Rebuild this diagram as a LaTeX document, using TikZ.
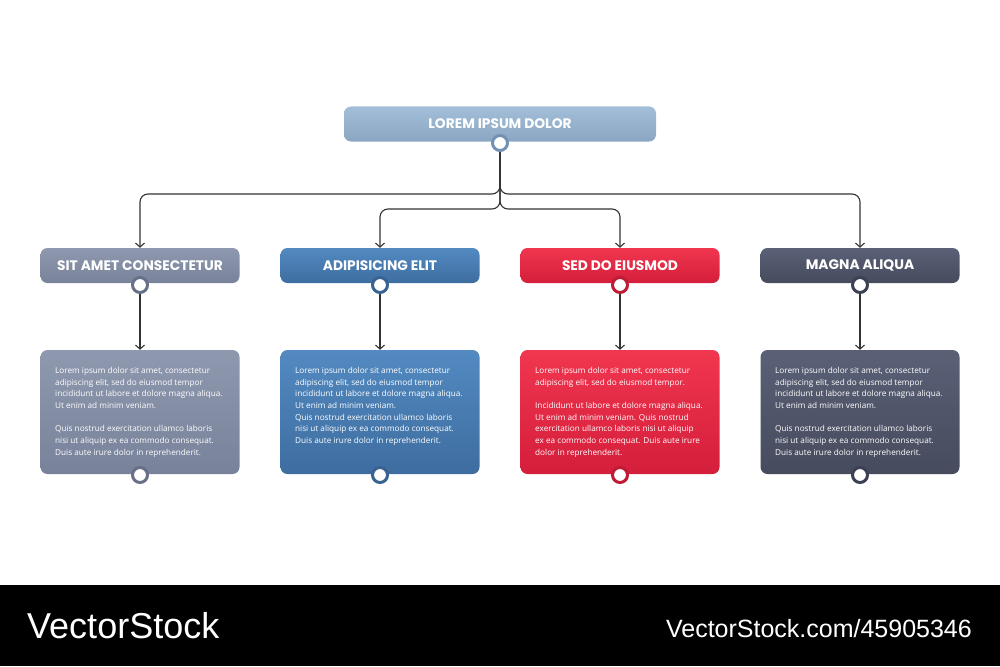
\documentclass[tikz,border=0pt]{standalone}
\usepackage{fontspec}
\setmainfont{Open Sans}
\newfontfamily\hfont{Poppins}
\newfontfamily\wfont{Liberation Sans}
\usetikzlibrary{arrows.meta}
\definecolor{topT}{HTML}{A2BED8}\definecolor{topB}{HTML}{8AA6C2}\definecolor{topR}{HTML}{7391B2}
\definecolor{grT}{HTML}{8E98AE}\definecolor{grB}{HTML}{78829A}\definecolor{grR}{HTML}{687087}
\definecolor{blT}{HTML}{528AC1}\definecolor{blB}{HTML}{3E6DA0}\definecolor{blR}{HTML}{376291}
\definecolor{rdT}{HTML}{F1364F}\definecolor{rdB}{HTML}{D41E3B}\definecolor{rdR}{HTML}{BF1A35}
\definecolor{dkT}{HTML}{5A6076}\definecolor{dkB}{HTML}{464B5D}\definecolor{dkR}{HTML}{3B4052}
\definecolor{lineC}{HTML}{333333}
\tikzset{
  box/.style={rounded corners=7pt, minimum width=199pt, inner sep=0pt, text=white},
  hdr/.style={box, minimum height=35pt, font=\hfont\bfseries\fontsize{13.8}{16}\selectfont},
  bodybox/.style={box, minimum height=124pt},
  bodytext/.style={anchor=north west, inner sep=0pt, text=white, align=left,
     font=\fontsize{8.2}{11.7}\selectfont},
  shade/.style 2 args={top color=#1, bottom color=#2},
  dot/.style={circle, fill=white, draw=#1, line width=3pt, minimum size=15pt, inner sep=0pt},
  conn/.style={draw=lineC, line width=1.1pt, rounded corners=8pt},
  arr/.style={conn, -{Straight Barb[length=4pt,width=9pt]}},
}
\begin{document}
\begin{tikzpicture}[x=1pt,y=-1pt]
\useasboundingbox (0,0) rectangle (1000,666);
\fill[white] (0,0) rectangle (1000,666);

% top node
\node[box, minimum width=312pt, minimum height=35pt, shade={topT}{topB},
      font=\hfont\bfseries\fontsize{13.8}{16}\selectfont] (top) at (500,124) {LOREM IPSUM DOLOR};

% headers
\node[hdr, shade={grT}{grB}] (h1) at (140,265.5) {SIT AMET CONSECTETUR};
\node[hdr, shade={blT}{blB}] (h2) at (380,265.5) {ADIPISICING ELIT};
\node[hdr, shade={rdT}{rdB}] (h3) at (620,265.5) {SED DO EIUSMOD};
\node[hdr, shade={dkT}{dkB}] (h4) at (860,265.5) {MAGNA ALIQUA};

% bodies
\node[bodybox, shade={grT}{grB}] (b1) at (140,412) {};
\node[bodybox, shade={blT}{blB}] (b2) at (380,412) {};
\node[bodybox, shade={rdT}{rdB}] (b3) at (620,412) {};
\node[bodybox, shade={dkT}{dkB}] (b4) at (860,412) {};

\node[bodytext] (t1) at (55,367) {Lorem ipsum dolor sit amet, consectetur\\adipiscing elit, sed do eiusmod tempor\\incididunt ut labore et dolore magna aliqua.\\Ut enim ad minim veniam.\\[11.7pt]Quis nostrud exercitation ullamco laboris\\nisi ut aliquip ex ea commodo consequat.\\Duis aute irure dolor in reprehenderit.};
\node[bodytext] (t2) at (295,367) {Lorem ipsum dolor sit amet, consectetur\\adipiscing elit, sed do eiusmod tempor\\incididunt ut labore et dolore magna aliqua.\\Ut enim ad minim veniam.\\Quis nostrud exercitation ullamco laboris\\nisi ut aliquip ex ea commodo consequat.\\Duis aute irure dolor in reprehenderit.};
\node[bodytext] (t3) at (535,367) {Lorem ipsum dolor sit amet, consectetur\\adipiscing elit, sed do eiusmod tempor.\\[11.7pt]Incididunt ut labore et dolore magna aliqua.\\Ut enim ad minim veniam. Quis nostrud\\exercitation ullamco laboris nisi ut aliquip\\ex ea commodo consequat. Duis aute irure\\dolor in reprehenderit.};
\node[bodytext] (t4) at (775,367) {Lorem ipsum dolor sit amet, consectetur\\adipiscing elit, sed do eiusmod tempor\\incididunt ut labore et dolore magna aliqua.\\Ut enim ad minim veniam.\\[11.7pt]Quis nostrud exercitation ullamco laboris\\nisi ut aliquip ex ea commodo consequat.\\Duis aute irure dolor in reprehenderit.};

% junction levels
\coordinate (ya) at (500,194);
\coordinate (yb) at (500,209);

% dots (positions)
\coordinate (ct) at (500,143);
\coordinate (c1) at (140,285);
\coordinate (c2) at (380,285);
\coordinate (c3) at (620,285);
\coordinate (c4) at (860,285);

% connectors
\draw[arr] (ct) |- (h1.north |- ya) -- (h1.north);
\draw[arr] (ct) |- (h4.north |- ya) -- (h4.north);
\draw[arr] (ct) |- (h2.north |- yb) -- (h2.north);
\draw[arr] (ct) |- (h3.north |- yb) -- (h3.north);
\draw[arr] (c1) -- (b1.north);
\draw[arr] (c2) -- (b2.north);
\draw[arr] (c3) -- (b3.north);
\draw[arr] (c4) -- (b4.north);

% dots
\node[dot=topR] (dt) at (ct) {};
\node[dot=grR] (d1) at (c1) {};
\node[dot=blR] (d2) at (c2) {};
\node[dot=rdR] (d3) at (c3) {};
\node[dot=dkR] (d4) at (c4) {};
\node[dot=grR] (e1) at (140,475) {};
\node[dot=blR] (e2) at (380,475) {};
\node[dot=rdR] (e3) at (620,475) {};
\node[dot=dkR] (e4) at (860,475) {};

% footer
\fill[black] (0,585) rectangle (1000,666);
\node[anchor=base west, inner sep=0pt, text=white, font=\wfont\fontsize{36}{40}\selectfont] (wm1) at (27,638) {VectorStock};
\node[anchor=base east, inner sep=0pt, text=white, font=\wfont\fontsize{25}{28}\selectfont] (wm2) at (972,637) {VectorStock.com/45905346};
\end{tikzpicture}
\end{document}
